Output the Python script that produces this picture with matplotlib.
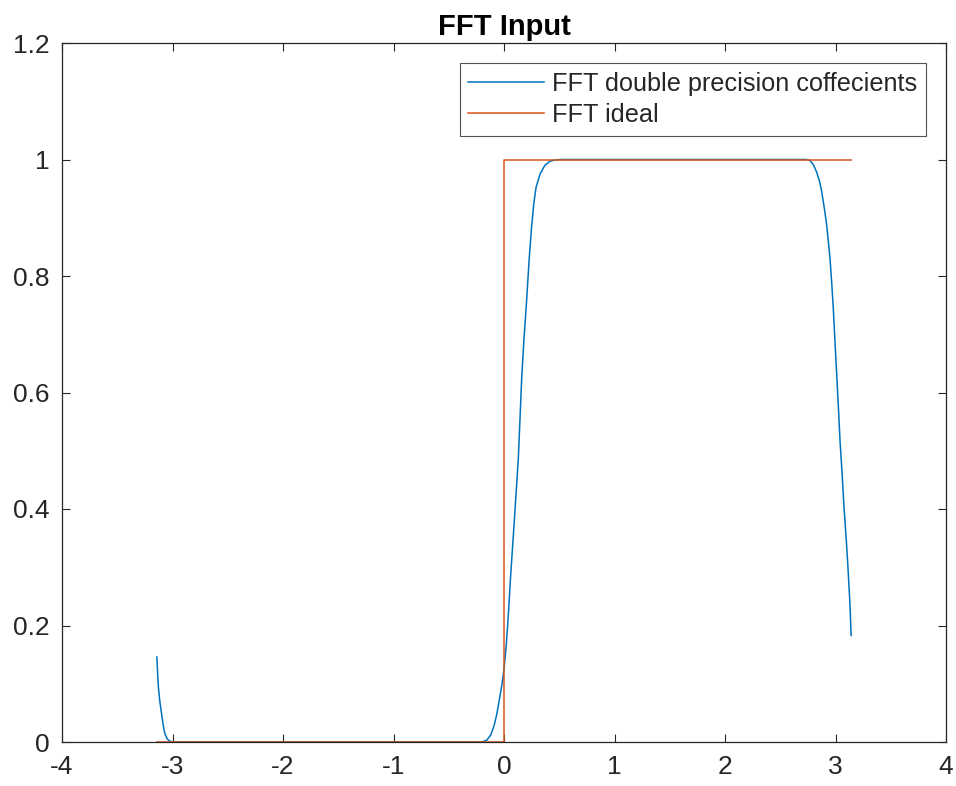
import matplotlib.pyplot as plt
import numpy as np

# blue curve: FFT magnitude with double precision coefficients
coef_x = [-3.1416, -3.135, -3.128, -3.115, -3.10, -3.085, -3.07, -3.05, -3.03, -3.0,
          -0.20, -0.157, -0.12, -0.09, -0.066, -0.04, -0.02, 0.0, 0.02, 0.039,
          0.06, 0.084, 0.107, 0.130, 0.145, 0.160, 0.18, 0.205, 0.228, 0.250,
          0.27, 0.29, 0.326, 0.37, 0.416, 0.46, 0.506,
          2.70, 2.739, 2.77, 2.80, 2.83, 2.855, 2.875, 2.90, 2.920, 2.935,
          2.950, 2.965, 2.980, 3.0, 3.011, 3.03, 3.041, 3.06, 3.077, 3.10,
          3.116, 3.13, 3.1416]
coef_y = [0.146, 0.12, 0.095, 0.07, 0.05, 0.03, 0.015, 0.006, 0.002, 0.0,
          0.0, 0.003, 0.012, 0.028, 0.047, 0.075, 0.097, 0.125, 0.165, 0.217,
          0.285, 0.353, 0.42, 0.488, 0.556, 0.624, 0.69, 0.759, 0.83, 0.885,
          0.925, 0.952, 0.975, 0.99, 0.997, 0.999, 1.0,
          1.0, 1.0, 0.998, 0.991, 0.978, 0.963, 0.945, 0.915, 0.888, 0.86,
          0.831, 0.79, 0.745, 0.67, 0.631, 0.56, 0.517, 0.46, 0.403, 0.34,
          0.289, 0.24, 0.183]

# orange curve: ideal step response
ideal_x = [-np.pi, 0.0, 0.0, np.pi]
ideal_y = [0.0, 0.0, 1.0, 1.0]

labels = ["FFT double precision coffecients", "FFT ideal"]

plt.rcParams['font.family'] = ['Liberation Sans', 'DejaVu Sans']
plt.rcParams['axes.unicode_minus'] = False

fig = plt.figure(figsize=(9.56, 7.86), dpi=100)
ax = fig.add_axes([62 / 956, 1 - 742 / 786, (946 - 62) / 956, (742 - 43) / 786])

ax.plot(coef_x, coef_y, color='#0072BD', linewidth=1.1, label=labels[0])
ax.plot(ideal_x, ideal_y, color='#D95319', linewidth=1.1, label=labels[1])

ax.set_xlim(-4, 4)
ax.set_ylim(0, 1.2)
ax.set_xticks(np.arange(-4, 5, 1))
ax.set_yticks([0, 0.2, 0.4, 0.6, 0.8, 1, 1.2])
ax.set_yticklabels(['0', '0.2', '0.4', '0.6', '0.8', '1', '1.2'])
ax.tick_params(direction='in', length=6, width=0.8, colors='#262626',
               labelsize=19, top=True, right=True, pad=9)
for s in ax.spines.values():
    s.set_color('#262626')
    s.set_linewidth(0.9)

ax.set_title('FFT Input', fontsize=21, fontweight='bold', pad=6)

leg = ax.legend(loc='upper right', fontsize=18.2, frameon=True, fancybox=False,
                edgecolor='#262626', handlelength=3.0, borderaxespad=0.8,
                borderpad=0.35, labelspacing=0.28, handletextpad=0.3)
leg.get_frame().set_linewidth(0.8)
for t in leg.get_texts():
    t.set_color('#262626')

fig.savefig('out.png', dpi=100)
